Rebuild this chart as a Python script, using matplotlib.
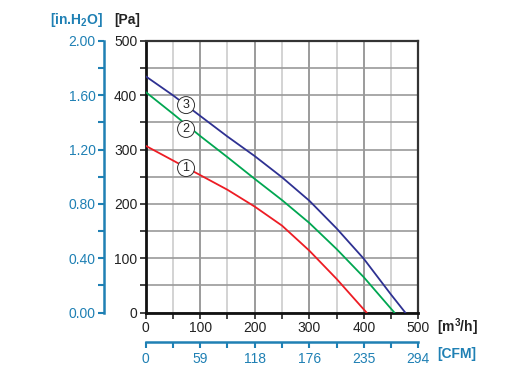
import matplotlib
matplotlib.use('Agg')
import matplotlib.pyplot as plt
import numpy as np

plt.rcParams['font.family'] = ['Liberation Sans', 'DejaVu Sans']
plt.rcParams['mathtext.fontset'] = 'custom'
plt.rcParams['mathtext.rm'] = 'Liberation Sans'
plt.rcParams['mathtext.bf'] = 'Liberation Sans:bold'

# Data (flow in m3/h, pressure in Pa)
flow_1 = [0, 50, 100, 150, 200, 250, 300, 350, 405]
pa_1 = [307, 280, 253, 226, 195, 160, 114, 62, 0]
flow_2 = [0, 50, 100, 150, 200, 250, 300, 350, 400, 456]
pa_2 = [406, 366, 325, 286, 246, 207, 165, 117, 65, 0]
flow_3 = [0, 50, 100, 150, 200, 250, 300, 350, 400, 450, 476]
pa_3 = [435, 400, 362, 324, 288, 249, 206, 155, 99, 33, 0]

curve_names = ['1', '2', '3']
label_pos = [(74, 266), (74, 338), (74, 382)]

pa_ticks = [0, 100, 200, 300, 400, 500]
inh2o_ticks = [0.0, 0.4, 0.8, 1.2, 1.6, 2.0]
flow_ticks = [0, 100, 200, 300, 400, 500]
cfm_labels = ['0', '59', '118', '176', '235', '294']

blue_ax = '#1f80b4'
W, H = 531, 386
fig = plt.figure(figsize=(W / 100, H / 100), dpi=100)

x0, x1 = 145.7, 418.3
y0, y1 = 312.5, 41
ax = fig.add_axes([x0 / W, 1 - y0 / H, (x1 - x0) / W, (y0 - y1) / H])

ax.plot(flow_1, pa_1, color='#ed1c24', lw=1.3, zorder=3)
ax.plot(flow_2, pa_2, color='#00a651', lw=1.3, zorder=3)
ax.plot(flow_3, pa_3, color='#2e3192', lw=1.3, zorder=3)

for name, (fx, fy) in zip(curve_names, label_pos):
    ax.text(fx, fy, name, ha='center', va='center', fontsize=9, color='#222222', zorder=5,
            bbox=dict(boxstyle='circle,pad=0.2', fc='white', ec='#333333', lw=0.7))

ax.set_xlim(0, 500)
ax.set_ylim(0, 500)
ax.set_xticks(flow_ticks)
ax.set_xticks(np.arange(50, 500, 100), minor=True)
ax.set_yticks(pa_ticks)
ax.set_yticks(np.arange(50, 500, 100), minor=True)
ax.grid(which='major', axis='x', color='#8a8a8a', lw=1.2)
ax.grid(which='minor', axis='x', color='#cccccc', lw=1.2)
ax.grid(which='both', axis='y', color='#9a9a9a', lw=1.2)
ax.set_axisbelow(True)
ax.tick_params(which='both', direction='out', length=4, width=1.2, color='#222222',
               labelsize=10, labelcolor='#222222', pad=2)
for s in ['left', 'bottom']:
    ax.spines[s].set_linewidth(2)
    ax.spines[s].set_color('#111111')
for s in ['top', 'right']:
    ax.spines[s].set_linewidth(1.6)
    ax.spines[s].set_color('#333333')

# in.H2O axis
ax_in = fig.add_axes([104 / W, 1 - y0 / H, 0.001, (y0 - y1) / H])
ax_in.set_ylim(0, 2.0)
ax_in.set_yticks(inh2o_ticks)
ax_in.set_yticklabels(['%.2f' % v for v in inh2o_ticks])
ax_in.set_yticks(np.arange(0.2, 2.0, 0.4), minor=True)
ax_in.set_xticks([])
for s in ['top', 'right', 'bottom']:
    ax_in.spines[s].set_visible(False)
ax_in.spines['left'].set_color(blue_ax)
ax_in.spines['left'].set_linewidth(1.8)
ax_in.tick_params(which='both', direction='out', length=4, width=1.5, color=blue_ax,
                  labelsize=10, labelcolor=blue_ax, pad=2)

# CFM axis
ax_cfm = fig.add_axes([x0 / W, 1 - 342 / H, (x1 - x0) / W, 0.001])
ax_cfm.set_xlim(0, 294)
ax_cfm.set_xticks(np.linspace(0, 294, 6))
ax_cfm.set_xticklabels(cfm_labels)
ax_cfm.set_xticks(np.linspace(29.4, 264.6, 5), minor=True)
ax_cfm.set_yticks([])
for s in ['top', 'right', 'left']:
    ax_cfm.spines[s].set_visible(False)
ax_cfm.spines['bottom'].set_color(blue_ax)
ax_cfm.spines['bottom'].set_linewidth(1.8)
ax_cfm.tick_params(which='both', direction='out', length=4, width=1.5, color=blue_ax,
                   labelsize=10, labelcolor=blue_ax, pad=3)

# unit labels
fig.text(77 / W, 1 - 20 / H, r'[in.H$_\mathbf{2}$O]', ha='center', va='center',
         fontsize=10, fontweight='bold', color=blue_ax)
fig.text(127 / W, 1 - 20 / H, '[Pa]', ha='center', va='center',
         fontsize=10, fontweight='bold', color='#222222')
fig.text(437 / W, 1 - 327 / H, r'[m$^\mathbf{3}$/h]', ha='left', va='center',
         fontsize=10, fontweight='bold', color='#222222')
fig.text(437 / W, 1 - 354 / H, '[CFM]', ha='left', va='center',
         fontsize=10, fontweight='bold', color=blue_ax)

fig.savefig('out.png', dpi=100)
